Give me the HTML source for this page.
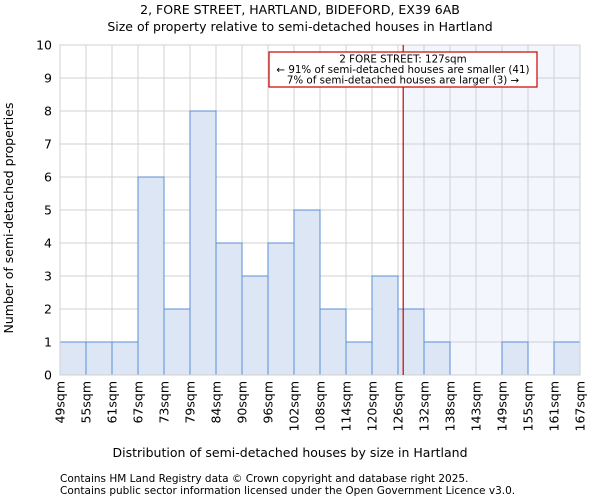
<!DOCTYPE html>
<html><head><meta charset="utf-8"><style>
body{margin:0;background:#fff;font-family:"DejaVu Sans","Liberation Sans",sans-serif;}
svg text{font-family:"DejaVu Sans","Liberation Sans",sans-serif;fill:#000;}
</style></head><body>
<svg id="chart" width="600" height="500">
<text x="300" y="14" font-size="12.5" text-anchor="middle">2, FORE STREET, HARTLAND, BIDEFORD, EX39 6AB</text>
<text x="300" y="31" font-size="12.5" text-anchor="middle">Size of property relative to semi-detached houses in Hartland</text>
<g id="plot"></g>
<text x="290" y="457" font-size="12.5" text-anchor="middle">Distribution of semi-detached houses by size in Hartland</text>
<text transform="translate(13,218) rotate(-90)" font-size="12.5" text-anchor="middle">Number of semi-detached properties</text>
<text x="60" y="482" font-size="10.5" fill="#333">Contains HM Land Registry data © Crown copyright and database right 2025.</text>
<text x="60" y="494" font-size="10.5" fill="#333">Contains public sector information licensed under the Open Government Licence v3.0.</text>
</svg>
<script>
const edgeLabels=["49sqm","55sqm","61sqm","67sqm","73sqm","79sqm","84sqm","90sqm","96sqm","102sqm","108sqm","114sqm","120sqm","126sqm","132sqm","138sqm","143sqm","149sqm","155sqm","161sqm","167sqm"];
const counts=[1,1,1,6,2,8,4,3,4,5,2,1,3,2,1,0,0,1,0,1];
const yTicks=[0,1,2,3,4,5,6,7,8,9,10];
const markerBin=13.2;
const L=60,R=580,T=45,B=375,ymax=10;
const bw=(R-L)/counts.length;
const x=i=>L+i*bw;
const y=v=>B-(B-T)*v/ymax;
const NS="http://www.w3.org/2000/svg";
const g=document.getElementById('plot');
function mk(t,a){const e=document.createElementNS(NS,t);for(const k in a)e.setAttribute(k,a[k]);g.appendChild(e);return e;}
const mx=x(markerBin);
let e=mk('rect',{x:mx,y:T,width:R-mx,height:B-T,fill:'#f3f6fd'});


yTicks.forEach(v=>{
 let l=mk('line',{x1:L,x2:R,y1:y(v),y2:y(v),stroke:'#d0d0d0','stroke-width':1});
 
 
 let t=mk('text',{x:L-8,y:y(v)+4.5,'font-size':12.5,'text-anchor':'end'});t.textContent=v;
 
 
});
edgeLabels.forEach((s,i)=>{
 let l=mk('line',{x1:x(i),x2:x(i),y1:T,y2:B,stroke:'#d0d0d0','stroke-width':1});
 
 
 let t=mk('text',{transform:`translate(${x(i)+4.5},${B+6}) rotate(-90)`,'font-size':12.5,'text-anchor':'end'});t.textContent=s;
 
 
});
counts.forEach((c,i)=>{
 if(c<=0)return;
 let r=mk('rect',{x:x(i),y:y(c),width:bw,height:B-y(c),fill:'#dce6f5',stroke:'#5b8fd6','stroke-width':1});
 
 
});
e=mk('rect',{x:L,y:T,width:R-L,height:B-T,fill:'none',stroke:'#d0d0d0'});


e=mk('line',{x1:mx,x2:mx,y1:T,y2:B,stroke:'#cc0000','stroke-width':1.2});


e=mk('rect',{x:269,y:52,width:268,height:35,fill:'#fff',stroke:'#cc0000','stroke-width':1.2});


["2 FORE STREET: 127sqm","← 91% of semi-detached houses are smaller (41)","7% of semi-detached houses are larger (3) →"].forEach((s,i)=>{
 let t=mk('text',{x:403,y:62.5+i*10.5,'font-size':10.3,'text-anchor':'middle'});t.textContent=s;
 
 
});
</script>
</body></html>
